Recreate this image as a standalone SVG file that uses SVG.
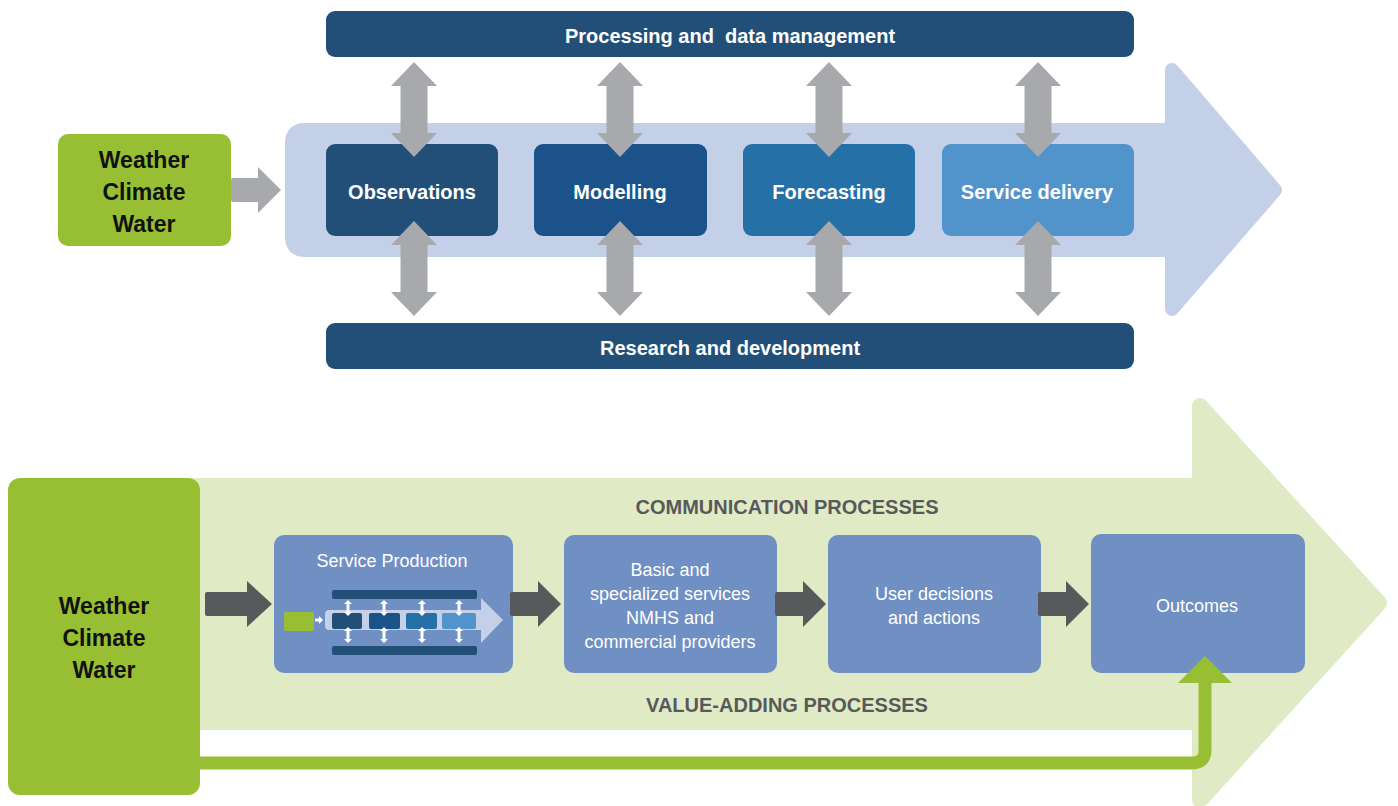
<svg xmlns="http://www.w3.org/2000/svg" xmlns:xlink="http://www.w3.org/1999/xlink" width="1398" height="806" viewBox="0 0 1398 806">
  <style>
    .bar { fill: #224f78; }
    .grey { fill: #a7a9ac; }
    .dark { fill: #58595b; }
    .green { fill: #98bf33; }
    .box { fill: #7090c4; }
    .t { font-family: "Liberation Sans", "DejaVu Sans", sans-serif; text-anchor: middle; }
    .tb { font-weight: bold; fill: #ffffff; font-size: 20px; }
    .tk { font-weight: bold; fill: #111111; font-size: 23px; }
    .tw { fill: #ffffff; font-size: 18px; }
    .tg { font-weight: bold; fill: #58595b; font-size: 20px; }
    .pre { white-space: pre; }
  </style>
  <defs>
    <!-- vertical double-headed arrow, 95 tall -->
    <path id="dbl" d="M0,0 L23,24 L13.5,24 L13.5,71 L23,71 L0,95 L-23,71 L-13.5,71 L-13.5,24 L-23,24 Z"/>
    <!-- small white double arrow for the thumbnail -->
    <path id="mini" d="M0,0 L4,4 L1.5,4 L1.5,12 L4,12 L0,16 L-4,12 L-1.5,12 L-1.5,4 L-4,4 Z"/>
    <!-- short right-pointing block arrow -->
    <path id="rarr" d="M2,-12 H28 V-23 L51,0 L28,23 V12 H2 Q0,12 0,10 V-10 Q0,-12 2,-12 Z"/>
  </defs>

  <!-- ===== Upper chain ===== -->
  <g id="flow-arrow">
    <path d="M305,130 H1172 V70 L1275,190 L1172,309 V250 H305 Q292,250 292,237 V143 Q292,130 305,130 Z"
          fill="#c3d0e7" stroke="#c3d0e7" stroke-width="14" stroke-linejoin="round"/>
  </g>

  <g id="processing">
    <rect class="bar" x="326" y="11" width="808" height="46" rx="9"/>
    <text class="t tb pre" x="730" y="43" xml:space="preserve">Processing and  data management</text>
  </g>
  <g id="research">
    <rect class="bar" x="326" y="323" width="808" height="46" rx="9"/>
    <text class="t tb" x="730" y="355">Research and development</text>
  </g>

  <g id="source-top">
    <rect class="green" x="58" y="134" width="173" height="112" rx="10"/>
    <text class="t tk" x="144" y="168">Weather</text>
    <text class="t tk" x="144" y="200">Climate</text>
    <text class="t tk" x="144" y="232">Water</text>
  </g>

  <g id="observations">
    <rect x="326" y="144" width="172" height="92" rx="9" fill="#224f78"/>
    <text class="t tb" x="412" y="199">Observations</text>
  </g>
  <g id="modelling">
    <rect x="534" y="144" width="173" height="92" rx="9" fill="#1a5289"/>
    <text class="t tb" x="620" y="199">Modelling</text>
  </g>
  <g id="forecasting">
    <rect x="743" y="144" width="172" height="92" rx="9" fill="#2670a8"/>
    <text class="t tb" x="829" y="199">Forecasting</text>
  </g>
  <g id="service-delivery">
    <rect x="942" y="144" width="192" height="92" rx="9" fill="#5193cb"/>
    <text class="t tb" x="1037" y="199">Service delivery</text>
  </g>

  <g id="connectors-top">
    <path class="grey" d="M233,178 H258 V167 L281,190 L258,213 V202 H233 Q231,202 231,200 V180 Q231,178 233,178 Z"/>
    <use href="#dbl" class="grey" x="414" y="62"/>
    <use href="#dbl" class="grey" x="414" y="221"/>
    <use href="#dbl" class="grey" x="620" y="62"/>
    <use href="#dbl" class="grey" x="620" y="221"/>
    <use href="#dbl" class="grey" x="829" y="62"/>
    <use href="#dbl" class="grey" x="829" y="221"/>
    <use href="#dbl" class="grey" x="1038" y="62"/>
    <use href="#dbl" class="grey" x="1038" y="221"/>
  </g>

  <!-- ===== Lower value chain ===== -->
  <g id="value-arrow">
    <path d="M190,486 H1200 V406 L1379,603 L1200,800 V722 H190 Z"
          fill="#e0ebc6" stroke="#e0ebc6" stroke-width="16" stroke-linejoin="round"/>
  </g>

  <text class="t tg" x="787" y="514">COMMUNICATION PROCESSES</text>
  <text class="t tg" x="787" y="712">VALUE-ADDING PROCESSES</text>

  <g id="source-bottom">
    <rect class="green" x="8" y="478" width="192" height="317" rx="12"/>
    <text class="t tk" x="104" y="614">Weather</text>
    <text class="t tk" x="104" y="646">Climate</text>
    <text class="t tk" x="104" y="678">Water</text>
  </g>

  <g id="service-production">
    <rect class="box" x="274" y="535" width="239" height="138" rx="10"/>
    <text class="t tw" x="392" y="567">Service Production</text>
    <!-- thumbnail of the upper chain -->
    <path d="M329,610 H481 V598 L503,620 L481,643 V630 H329 Q325,630 325,626 V614 Q325,610 329,610 Z" fill="#c3d0e7"/>
    <rect class="bar" x="332" y="590" width="145" height="9" rx="2"/>
    <rect class="bar" x="332" y="646" width="145" height="9" rx="2"/>
    <rect class="green" x="284" y="612" width="30" height="19" rx="2"/>
    <path d="M315,618.5 H319 V616 L323,620 L319,624 V621.5 H315 Z" fill="#ffffff"/>
    <rect x="332" y="613" width="30" height="16" rx="2" fill="#224f78"/>
    <rect x="369" y="613" width="31" height="16" rx="2" fill="#1a5289"/>
    <rect x="406" y="613" width="31" height="16" rx="2" fill="#2670a8"/>
    <rect x="442" y="613" width="34" height="16" rx="2" fill="#5193cb"/>
    <use href="#mini" fill="#ffffff" x="348" y="600"/>
    <use href="#mini" fill="#ffffff" x="348" y="627"/>
    <use href="#mini" fill="#ffffff" x="384" y="600"/>
    <use href="#mini" fill="#ffffff" x="384" y="627"/>
    <use href="#mini" fill="#ffffff" x="422" y="600"/>
    <use href="#mini" fill="#ffffff" x="422" y="627"/>
    <use href="#mini" fill="#ffffff" x="459" y="600"/>
    <use href="#mini" fill="#ffffff" x="459" y="627"/>
  </g>

  <g id="basic-services">
    <rect class="box" x="564" y="535" width="213" height="138" rx="10"/>
    <text class="t tw" x="670" y="576">Basic and</text>
    <text class="t tw" x="670" y="600">specialized services</text>
    <text class="t tw" x="670" y="624">NMHS and</text>
    <text class="t tw" x="670" y="648">commercial providers</text>
  </g>

  <g id="user-decisions">
    <rect class="box" x="828" y="535" width="213" height="138" rx="10"/>
    <text class="t tw" x="934" y="600">User decisions</text>
    <text class="t tw" x="934" y="624">and actions</text>
  </g>

  <g id="outcomes">
    <rect class="box" x="1091" y="534" width="214" height="139" rx="10"/>
    <text class="t tw" x="1197" y="612">Outcomes</text>
  </g>

  <g id="connectors-bottom">
    <path class="dark" d="M207,592 H247 V581 L272,604 L247,627 V616 H207 Q205,616 205,614 V594 Q205,592 207,592 Z"/>
    <use href="#rarr" class="dark" x="510" y="604"/>
    <use href="#rarr" class="dark" x="775" y="604"/>
    <use href="#rarr" class="dark" x="1038" y="604"/>
    <path d="M200,763 H1192 Q1205,763 1205,750 V680" fill="none" stroke="#98bf33" stroke-width="13"/>
    <path class="green" d="M1178,683 L1205,656 L1232,683 Z"/>
  </g>
</svg>
